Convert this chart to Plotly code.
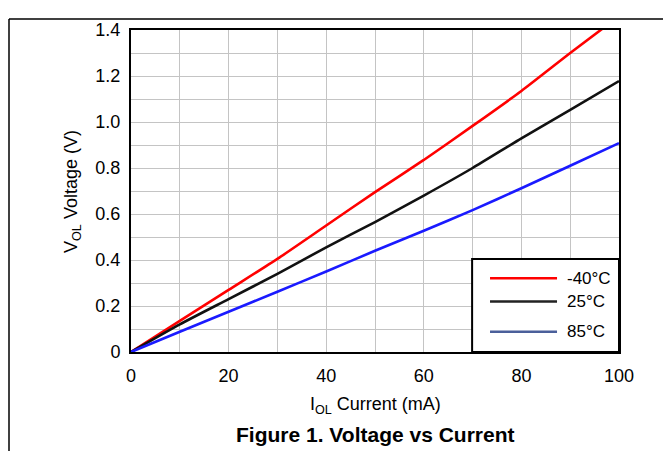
import plotly.graph_objects as go

current_ma = [0, 10, 20, 30, 40, 50, 60, 70, 80, 90, 100]
v_m40 = [0, 0.135, 0.27, 0.405, 0.55, 0.695, 0.835, 0.983, 1.135, 1.30, 1.46]
v_25 = [0, 0.12, 0.23, 0.34, 0.455, 0.565, 0.68, 0.80, 0.929, 1.053, 1.178]
v_85 = [0, 0.088, 0.175, 0.262, 0.35, 0.44, 0.527, 0.617, 0.712, 0.81, 0.908]
series_names = ["-40°C", "25°C", "85°C"]
series_colors = ["#ff0000", "#111111", "#1a1aff"]
legend_colors = ["#ff0000", "#222222", "#4a5f9a"]

x_ticks = [0, 20, 40, 60, 80, 100]
y_ticks = [0, 0.2, 0.4, 0.6, 0.8, 1.0, 1.2, 1.4]
y_ticktext = ["0", "0.2", "0.4", "0.6", "0.8", "1.0", "1.2", "1.4"]

FONT = "Liberation Sans, Arial, sans-serif"

fig = go.Figure()
for name, vals, col in zip(series_names, [v_m40, v_25, v_85], series_colors):
    fig.add_trace(go.Scatter(x=current_ma, y=vals, mode="lines", name=name,
                             line=dict(color=col, width=2.6, shape="spline", smoothing=0.6),
                             showlegend=False))

axis_common = dict(showline=True, linecolor="black", linewidth=2, mirror=True,
                   showgrid=True, gridcolor="#c4c4c4", gridwidth=1,
                   zeroline=False, ticks="", tickfont=dict(family=FONT, size=18, color="black"))

fig.update_xaxes(range=[0, 100], tickvals=x_ticks, ticktext=[str(v) for v in x_ticks],
                 minor=dict(dtick=10, tick0=0, showgrid=True, gridcolor="#c4c4c4", gridwidth=1),
                 ticklabelstandoff=6, **axis_common)
fig.update_yaxes(range=[0, 1.4], tickvals=y_ticks, ticktext=y_ticktext,
                 minor=dict(dtick=0.1, tick0=0, showgrid=True, gridcolor="#c4c4c4", gridwidth=1),
                 ticklabelstandoff=5, **axis_common)

# manual legend (paper coordinates)
leg_rows = [0.229, 0.157, 0.063]
shapes = [
    dict(type="line", xref="paper", yref="paper", x0=-0.250, x1=1.107, y0=1.034, y1=1.034,
         line=dict(color="black", width=1.5)),
    dict(type="line", xref="paper", yref="paper", x0=-0.250, x1=-0.250, y0=1.034, y1=-0.31,
         line=dict(color="black", width=1.5)),
    dict(type="rect", xref="paper", yref="paper", x0=0.699, x1=1.0, y0=0.0, y1=0.289,
         fillcolor="white", line=dict(color="black", width=2)),
]
annotations = []
for name, col, yy in zip(series_names, legend_colors, leg_rows):
    shapes.append(dict(type="line", xref="paper", yref="paper", x0=0.7357, x1=0.873, y0=yy, y1=yy,
                       line=dict(color=col, width=2.5)))
    annotations.append(dict(text=name, xref="paper", yref="paper", x=0.889, y=yy,
                            xanchor="left", yanchor="middle", showarrow=False,
                            font=dict(family=FONT, size=17, color="black")))

annotations += [
    dict(text="<b>Figure 1. Voltage vs Current</b>", xref="paper", yref="paper",
         x=0.5, y=-0.256, xanchor="center", yanchor="middle", showarrow=False,
         font=dict(family=FONT, size=21, color="black")),
    dict(text="I<sub>OL</sub> Current (mA)", xref="paper", yref="paper",
         x=0.5, y=-0.165, xanchor="center", yanchor="middle", showarrow=False,
         font=dict(family=FONT, size=18, color="black")),
    dict(text="V<sub>OL</sub> Voltage (V)", xref="paper", yref="paper", textangle=-90,
         x=-0.121, y=0.5, xanchor="center", yanchor="middle", showarrow=False,
         font=dict(family=FONT, size=18, color="black")),
]

fig.update_layout(
    width=663, height=443,
    margin=dict(l=123, r=52, t=12, b=99),
    paper_bgcolor="white", plot_bgcolor="white",
    font=dict(family=FONT, size=18, color="black"),
    showlegend=False,
    shapes=shapes,
    annotations=annotations,
)

fig.write_html("out.html")
